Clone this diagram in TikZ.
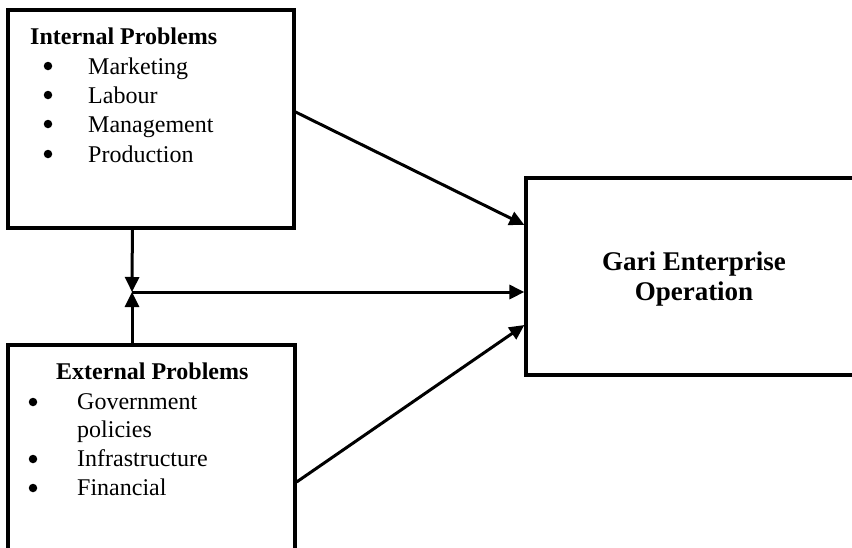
\documentclass[tikz,border=0pt]{standalone}
\usepackage{fontspec}
\setmainfont{Liberation Serif}
\usetikzlibrary{arrows.meta,calc}
\tikzset{
  box/.style={draw, line width=3.2pt, minimum width=#1, inner sep=0pt},
  txt/.style={anchor=base west, inner sep=0pt, font=\fontsize{24}{28}\selectfont},
  bul/.style={circle, fill, inner sep=0pt, minimum size=8.5pt},
  arr/.style={line width=3pt, -{Triangle[length=15pt,width=14pt]}},
}
\begin{document}
\begin{tikzpicture}[x=1pt,y=1pt]
\useasboundingbox (0,0) rectangle (852,-547);
\clip (0,0) rectangle (852,-547);
% boxes
\node[box=286pt, minimum height=218pt] (internal) at (151,-119) {};
\node[box=287pt, minimum height=225pt] (external) at (151.5,-457.5) {};
\node[box=336pt, minimum height=197pt] (gari) at (694,-276.5) {};
% internal text
\node[txt, font=\fontsize{24}{28}\selectfont\bfseries] (ih) at (30,-44) {Internal Problems};
\node[bul] (ib1) at (48,-66) {};
\node[txt] (i1) at (88,-74) {Marketing};
\node[bul] (ib2) at (48,-95) {};
\node[txt] (i2) at (88,-103) {Labour};
\node[bul] (ib3) at (48,-124) {};
\node[txt] (i3) at (88,-132) {Management};
\node[bul] (ib4) at (48,-154) {};
\node[txt] (i4) at (88,-162) {Production};
% external text
\node[txt, font=\fontsize{24}{28}\selectfont\bfseries] (eh) at (56,-379) {External Problems};
\node[bul] (eb1) at (33,-402) {};
\node[txt] (e1) at (77,-409) {Government};
\node[txt] (e1b) at (77,-437) {policies};
\node[bul] (eb2) at (33,-459) {};
\node[txt] (e2) at (77,-466) {Infrastructure};
\node[bul] (eb3) at (33,-488) {};
\node[txt] (e3) at (77,-495) {Financial};
% gari text
\node[anchor=base, inner sep=0pt, font=\fontsize{27}{30}\selectfont\bfseries] (gt1) at (694,-270) {Gari Enterprise};
\node[anchor=base, inner sep=0pt, font=\fontsize{27}{30}\selectfont\bfseries] (gt2) at (694,-300) {Operation};
% connectors
\coordinate (j) at (132,-292);
\coordinate (itop) at ($(internal.south west)+(126,0)$);
\draw[arr] (itop) -- (j);
\draw[arr] (external.north -| j) -- (j);
\draw[arr] (j) -- (j -| gari.west);
\draw[arr] ($(internal.east)+(0,7)$) -- ($(gari.west)+(0,51.5)$);
\draw[arr] ($(external.east)+(0,-24.5)$) -- ($(gari.west)+(0,-48.5)$);
\end{tikzpicture}
\end{document}
